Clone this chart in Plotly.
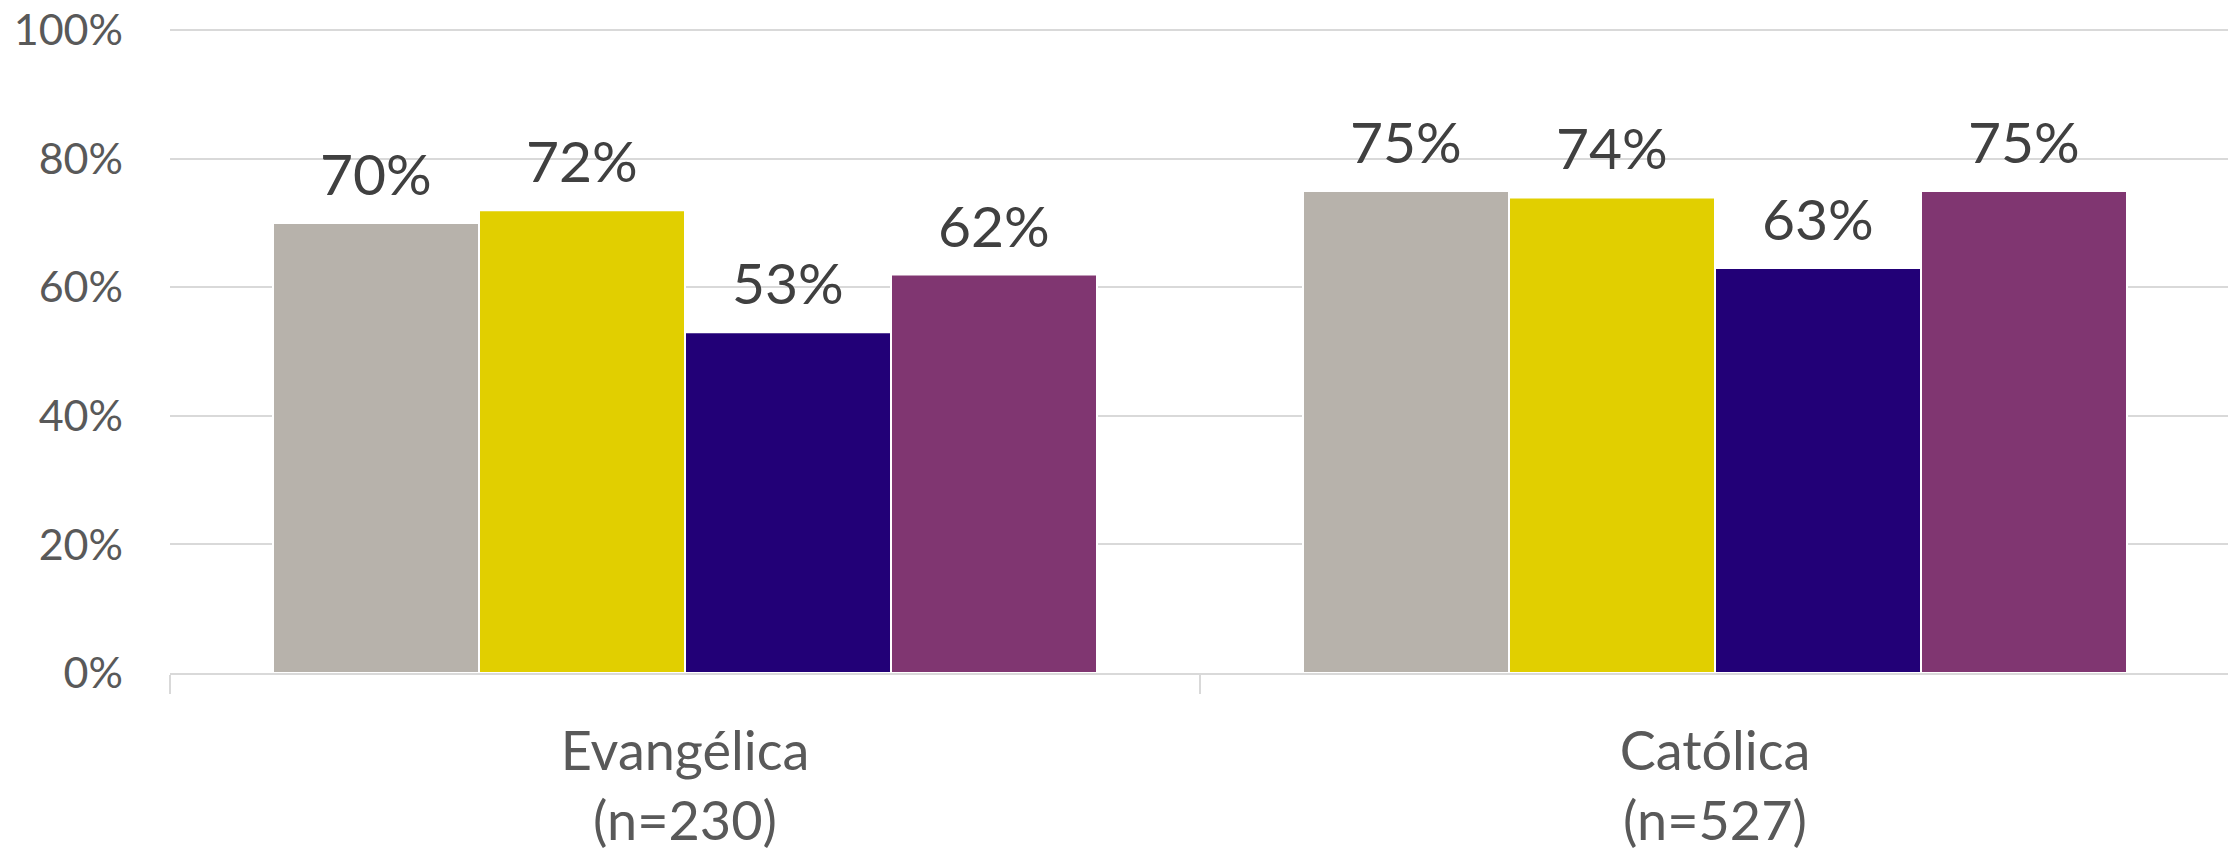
import plotly.graph_objects as go

categories = ["Evangélica<br>(n=230)", "Católica<br>(n=527)"]
series_names = ["Serie 1", "Serie 2", "Serie 3", "Serie 4"]
series_values = [
    [70, 75],
    [72, 74],
    [53, 63],
    [62, 75],
]
colors = ["#B7B2AB", "#E1CF00", "#220077", "#803671"]
y_ticks = [0, 20, 40, 60, 80, 100]
y_tick_labels = ["0%", "20%", "40%", "60%", "80%", "100%"]

FONT = "Lato, Liberation Sans, sans-serif"
BARGAP = 0.2

fig = go.Figure()
for name, vals, col in zip(series_names, series_values, colors):
    fig.add_trace(go.Bar(
        x=categories, y=vals, name=name,
        marker=dict(color=col, line=dict(color="white", width=2)),
        showlegend=False,
    ))

# data labels above each bar, positioned from the grouped bar layout
n = len(series_values)
slot = (1 - BARGAP) / n
for j, vals in enumerate(series_values):
    off = -(1 - BARGAP) / 2 + slot * (j + 0.5)
    for i, v in enumerate(vals):
        fig.add_annotation(
            x=i + off, y=v, xref="x", yref="y",
            text=f"{v}%", showarrow=False,
            yanchor="bottom", yshift=14,
            font=dict(family=FONT, size=57, color="#404040"),
        )

fig.update_layout(
    width=2236, height=849,
    margin=dict(l=162, r=14, t=21, b=184, autoexpand=False),
    paper_bgcolor="white", plot_bgcolor="white",
    barmode="group", bargap=BARGAP, bargroupgap=0.0,
    font=dict(family=FONT, color="#595959"),
    showlegend=False,
)
fig.update_yaxes(
    range=[0, 100.2], tickvals=y_ticks, ticktext=y_tick_labels,
    showgrid=True, gridcolor="#D9D9D9", gridwidth=2,
    zeroline=False, showline=False, automargin=False,
    ticklabeloverflow="allow",
    tickfont=dict(family=FONT, size=43, color="#595959"),
    ticklabelstandoff=46,
)
fig.update_xaxes(
    showline=True, linecolor="#D9D9D9", linewidth=2, automargin=False,
    ticklabeloverflow="allow",
    ticks="outside", tickson="boundaries", ticklen=19, tickcolor="#D9D9D9", tickwidth=2,
    tickfont=dict(family=FONT, size=54, color="#595959"),
    ticklabelstandoff=30,
)

fig.write_html("out.html")
